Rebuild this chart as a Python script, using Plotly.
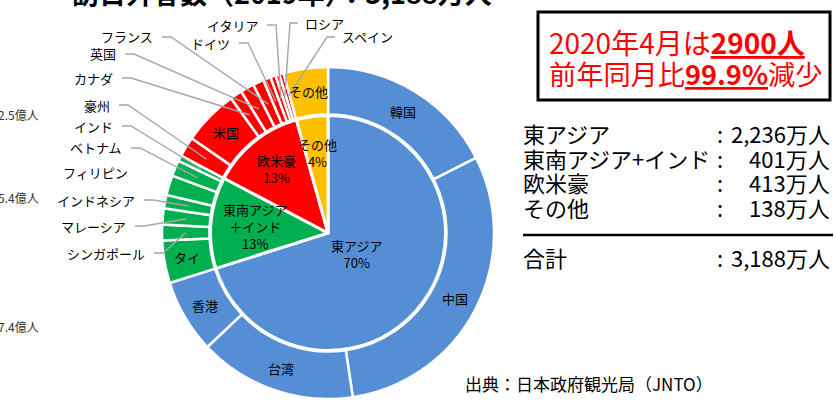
import numpy as np
import plotly.graph_objects as go

W, H = 835, 405
FONT = "Noto Sans CJK JP"

# 2019 visitor arrivals to Japan by region (unit: 10,000 persons)
regions = ["東アジア", "東南アジア+インド", "欧米豪", "その他"]
region_pie_labels = ["東アジア", "東南アジア<br>＋インド", "欧米豪", "その他"]
region_totals = [2236, 401, 413, 138]
region_colors = ["#558ED5", "#00B050", "#FF0000", "#FFC000"]

# breakdown by country, in drawing order (clockwise from 12 o'clock)
countries = ["韓国", "中国", "台湾", "香港",
             "タイ", "シンガポール", "マレーシア", "インドネシア", "フィリピン", "ベトナム", "インド",
             "豪州", "米国", "カナダ", "英国", "フランス", "ドイツ", "イタリア", "ロシア", "スペイン",
             "その他"]
country_values = [558.5, 959.4, 489.1, 229.1,
                  131.9, 49.2, 50.2, 41.3, 61.3, 49.5, 17.6,
                  62.2, 172.4, 37.5, 42.4, 33.6, 23.7, 16.2, 12.0, 13.1,
                  138.0]
country_region = [0] * 4 + [1] * 7 + [2] * 9 + [3]

# countries labelled inside the ring
inside_names = ["韓国", "中国", "台湾", "香港", "タイ", "米国", "その他"]

# countries labelled outside with a leader line: (text x, text y, side)
leader_labels = {
    "フランス": (155, 37, "L"),
    "英国": (118, 54, "L"),
    "カナダ": (115, 78, "L"),
    "豪州": (112, 105, "L"),
    "インド": (115, 126, "L"),
    "ベトナム": (124, 148, "L"),
    "フィリピン": (130, 172, "N"),
    "インドネシア": (137, 200, "L"),
    "マレーシア": (128, 226, "L"),
    "シンガポール": (147, 253, "L"),
    "ドイツ": (232, 43, "L"),
    "イタリア": (260, 25, "L"),
    "ロシア": (303, 23, "R"),
    "スペイン": (340, 37, "R"),
}

# April 2020 callout
apr_line1 = "2020年4月は<b><u>2900人</u></b>"
apr_line2 = "前年同月比<b><u>99.9%</u></b>減少"

# stray scale labels at the left edge
edge_labels = ["2.5億人", "5.4億人", "7.4億人"]
edge_label_y = [115, 197, 326]

# ---- geometry (pixels) ----
CX, CY = 328, 233
R_OUT = 166
R_HOLE = 118.5
R_IN = 117.5


def px(x):
    return x / W


def py(y):
    return 1 - y / H


def polar_px(angle_deg, r):
    a = np.deg2rad(angle_deg)
    return CX + r * np.sin(a), CY - r * np.cos(a)


total = sum(region_totals)
outer_total = sum(country_values)

fig = go.Figure()

fig.add_trace(go.Pie(
    labels=[f"{c}_{i}" for i, c in enumerate(countries)],
    values=country_values,
    sort=False, direction="clockwise", rotation=0,
    hole=R_HOLE / R_OUT,
    marker=dict(colors=[region_colors[g] for g in country_region],
                line=dict(color="white", width=2.5)),
    textinfo="none", hoverinfo="label+value", showlegend=False,
    domain=dict(x=[px(CX - R_OUT), px(CX + R_OUT)],
                y=[py(CY + R_OUT), py(CY - R_OUT)]),
))

fig.add_trace(go.Pie(
    labels=regions,
    values=region_totals,
    sort=False, direction="clockwise", rotation=0,
    marker=dict(colors=region_colors, line=dict(color="white", width=3)),
    textinfo="none", hoverinfo="label+value+percent", showlegend=False,
    domain=dict(x=[px(CX - R_IN), px(CX + R_IN)],
                y=[py(CY + R_IN), py(CY - R_IN)]),
))

annotations = []
shapes = []


def label(x, y, text, size, color="black", anchor="center"):
    annotations.append(dict(x=px(x), y=py(y), xref="paper", yref="paper",
                            text=text, showarrow=False,
                            font=dict(size=size, color=color, family=FONT),
                            xanchor=anchor, yanchor="middle"))


# inner labels: name + share
inner_r = [0.30, 0.62, 0.70, 0.69]
cum = 0
for name, v, rf in zip(region_pie_labels, region_totals, inner_r):
    mid = (cum + v / 2) / total * 360
    cum += v
    x, y = polar_px(mid, rf * R_IN)
    pct = round(v / total * 100)
    label(x, y, f"{name}<br>{pct}%", 13)

# outer labels and leader lines
cum = 0
for name, v in zip(countries, country_values):
    mid = (cum + v / 2) / outer_total * 360
    cum += v
    if name in inside_names:
        x, y = polar_px(mid, 143)
        label(x, y, name, 13)
    elif name in leader_labels:
        tx, ty, side = leader_labels[name]
        ex, ey = polar_px(mid, 142)
        if side == "R":
            label(tx, ty, name, 13, anchor="left")
            x0, x1 = tx - 5, tx - 13
        else:
            label(tx, ty, name, 13, anchor="right")
            x0, x1 = tx + 7, tx + 16
        if side != "N":
            path = (f"M {px(x0)},{py(ty)} L {px(x1)},{py(ty)} "
                    f"L {px(ex)},{py(ey)}")
            shapes.append(dict(type="path", path=path, xref="paper", yref="paper",
                               line=dict(color="#A6A6A6", width=1.4)))

# title (runs off the top edge)
label(70, -8, f"<b>訪日外客数（2019年）：{total:,}万人</b>", 27, anchor="left")

# edge labels
for t, yy in zip(edge_labels, edge_label_y):
    label(41, yy, t, 12, color="#333333", anchor="right")

# April 2020 callout box
shapes.append(dict(type="rect", xref="paper", yref="paper",
                   x0=px(538), x1=px(830), y0=py(100), y1=py(12),
                   line=dict(color="black", width=3), fillcolor="white"))
label(547, 42, apr_line1, 28, color="#FF0000", anchor="left")
label(547, 73, apr_line2, 27.2, color="#FF0000", anchor="left")

# summary table
row_y = [133, 158, 182, 207]
for name, v, yy in zip(regions, region_totals, row_y):
    label(521, yy, name, 22, anchor="left")
    label(720, yy, ":", 22)
    label(832, yy, f"{v:,}万人", 22, anchor="right")
shapes.append(dict(type="line", xref="paper", yref="paper",
                   x0=px(523), x1=px(833), y0=py(235), y1=py(235),
                   line=dict(color="black", width=2.5)))
label(521, 257, "合計", 22, anchor="left")
label(720, 257, ":", 22)
label(832, 257, f"{total:,}万人", 22, anchor="right")

# source
label(463, 383, "出典：日本政府観光局（JNTO）", 17, anchor="left")

fig.update_layout(
    width=W, height=H,
    margin=dict(l=0, r=0, t=0, b=0),
    paper_bgcolor="white", plot_bgcolor="white",
    annotations=annotations, shapes=shapes,
    font=dict(family=FONT),
)

fig.write_html("out.html")
